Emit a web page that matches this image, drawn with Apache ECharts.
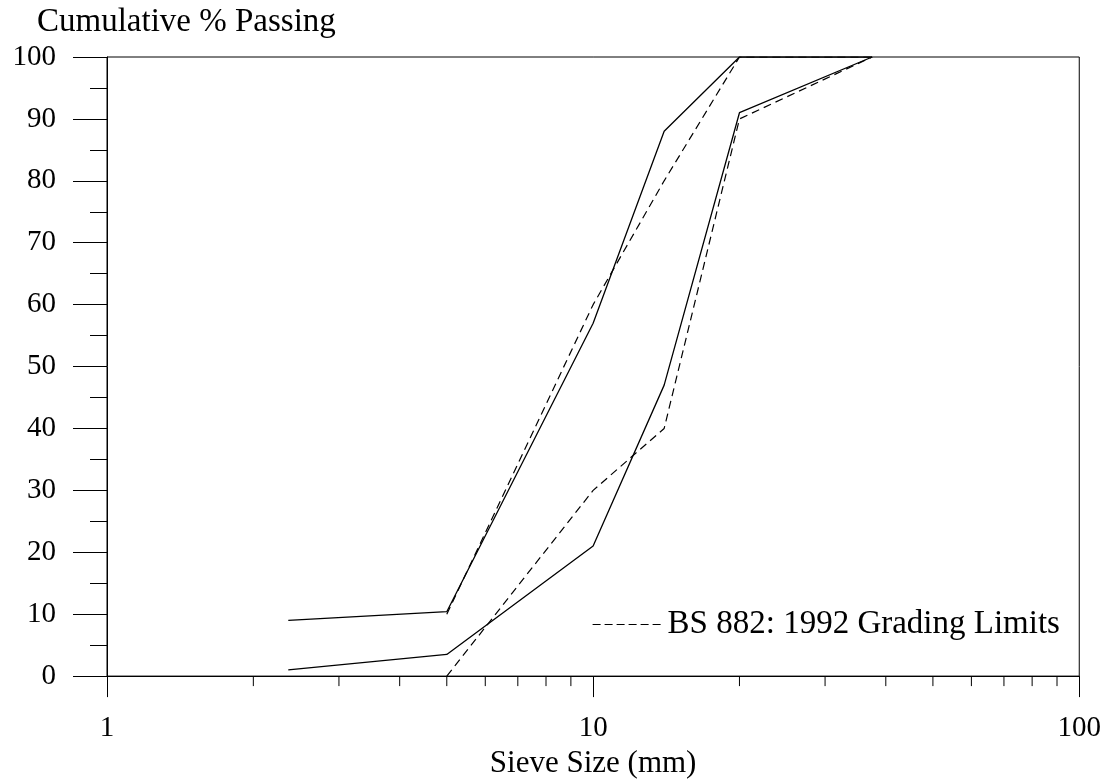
<!DOCTYPE html>
<html>
<head>
<meta charset="utf-8">
<script src="https://cdn.jsdelivr.net/npm/echarts@6/dist/echarts.min.js"></script>
<style>
html,body{margin:0;padding:0;background:#fff;}
#chart{width:1104px;height:784px;}
</style>
</head>
<body>
<div id="chart"></div>
<script>
// Sieve sizes (mm)
const sieveSizes = [2.36, 5, 10, 14, 20, 37.5];
// Measured gradings (cumulative % passing)
const sampleFine = [9, 10.4, 57, 88, 100, 100];
const sampleCoarse = [1, 3.5, 21, 47, 91, 100];
// BS 882: 1992 grading limits
const limitSizes = [5, 10, 14, 20, 37.5];
const limitUpper = [10, 60, 80, 100, 100];
const limitLower = [0, 30, 40, 90, 100];
// Minor tick positions on the log axis
const xMinorTicks = [2, 3, 4, 5, 6, 7, 8, 9, 20, 30, 40, 50, 60, 70, 80, 90];

const legendName = 'BS 882: 1992 Grading Limits';
const font = 'Liberation Serif, Times New Roman, serif';

function pairs(xs, ys) { return xs.map((x, i) => [x, ys[i]]); }

const chart = echarts.init(document.getElementById('chart'), null, {renderer: 'canvas'});
chart.setOption({
  animation: false,
  backgroundColor: '#fff',
  title: {
    text: 'Cumulative % Passing',
    left: 37, top: 6, padding: 0,
    textStyle: {fontFamily: font, fontSize: 33, fontWeight: 'normal', color: '#000'}
  },
  grid: {left: 107, right: 23, top: 57, bottom: 104, show: true, borderColor: '#000', borderWidth: 1, backgroundColor: 'transparent'},
  legend: {
    data: [legendName],
    left: 592, top: 608, padding: 0,
    itemWidth: 70, itemHeight: 14,
    textStyle: {fontFamily: font, fontSize: 33, color: '#000'},
    itemStyle: {opacity: 0},
    lineStyle: {type: [8, 4], width: 1.2, color: '#000', opacity: 1}
  },
  xAxis: {
    type: 'log', logBase: 10, min: 1, max: 100,
    name: 'Sieve Size (mm)', nameLocation: 'middle', nameGap: 70,
    nameTextStyle: {fontFamily: font, fontSize: 31, color: '#000'},
    axisLine: {show: true, lineStyle: {color: '#000', width: 1}},
    axisTick: {show: true, inside: false, length: 21, lineStyle: {color: '#000'}},
    axisLabel: {margin: 38, fontFamily: font, fontSize: 29, color: '#000'},
    splitLine: {show: false}
  },
  yAxis: {
    type: 'value', min: 0, max: 100, interval: 10,
    axisLine: {show: true, lineStyle: {color: '#000', width: 1}},
    axisTick: {show: true, inside: false, length: 34, lineStyle: {color: '#000'}},
    minorTick: {show: true, splitNumber: 2, length: 17, lineStyle: {color: '#000'}},
    axisLabel: {margin: 51, fontFamily: font, fontSize: 29, color: '#000'},
    splitLine: {show: false}
  },
  series: [
    {
      type: 'line', data: pairs(sieveSizes, sampleFine), symbol: 'none',
      lineStyle: {color: '#000', width: 1.3, type: 'solid'}, silent: true
    },
    {
      type: 'line', data: pairs(sieveSizes, sampleCoarse), symbol: 'none',
      lineStyle: {color: '#000', width: 1.3, type: 'solid'}, silent: true
    },
    {
      name: legendName, type: 'line', data: pairs(limitSizes, limitUpper), symbol: 'none',
      itemStyle: {color: '#000'},
      lineStyle: {color: '#000', width: 1.2, type: [8, 5]}, silent: true
    },
    {
      name: legendName, type: 'line', data: pairs(limitSizes, limitLower), symbol: 'none',
      itemStyle: {color: '#000'},
      lineStyle: {color: '#000', width: 1.2, type: [8, 5]}, silent: true
    },
    {
      type: 'custom', silent: true, clip: false,
      data: xMinorTicks.map(v => [v, 0]),
      renderItem: function (params, api) {
        const p = api.coord([api.value(0), api.value(1)]);
        return {
          type: 'line',
          shape: {x1: p[0], y1: p[1], x2: p[0], y2: p[1] + 10},
          style: {stroke: '#000', lineWidth: 1}
        };
      }
    }
  ]
});
</script>
</body>
</html>
